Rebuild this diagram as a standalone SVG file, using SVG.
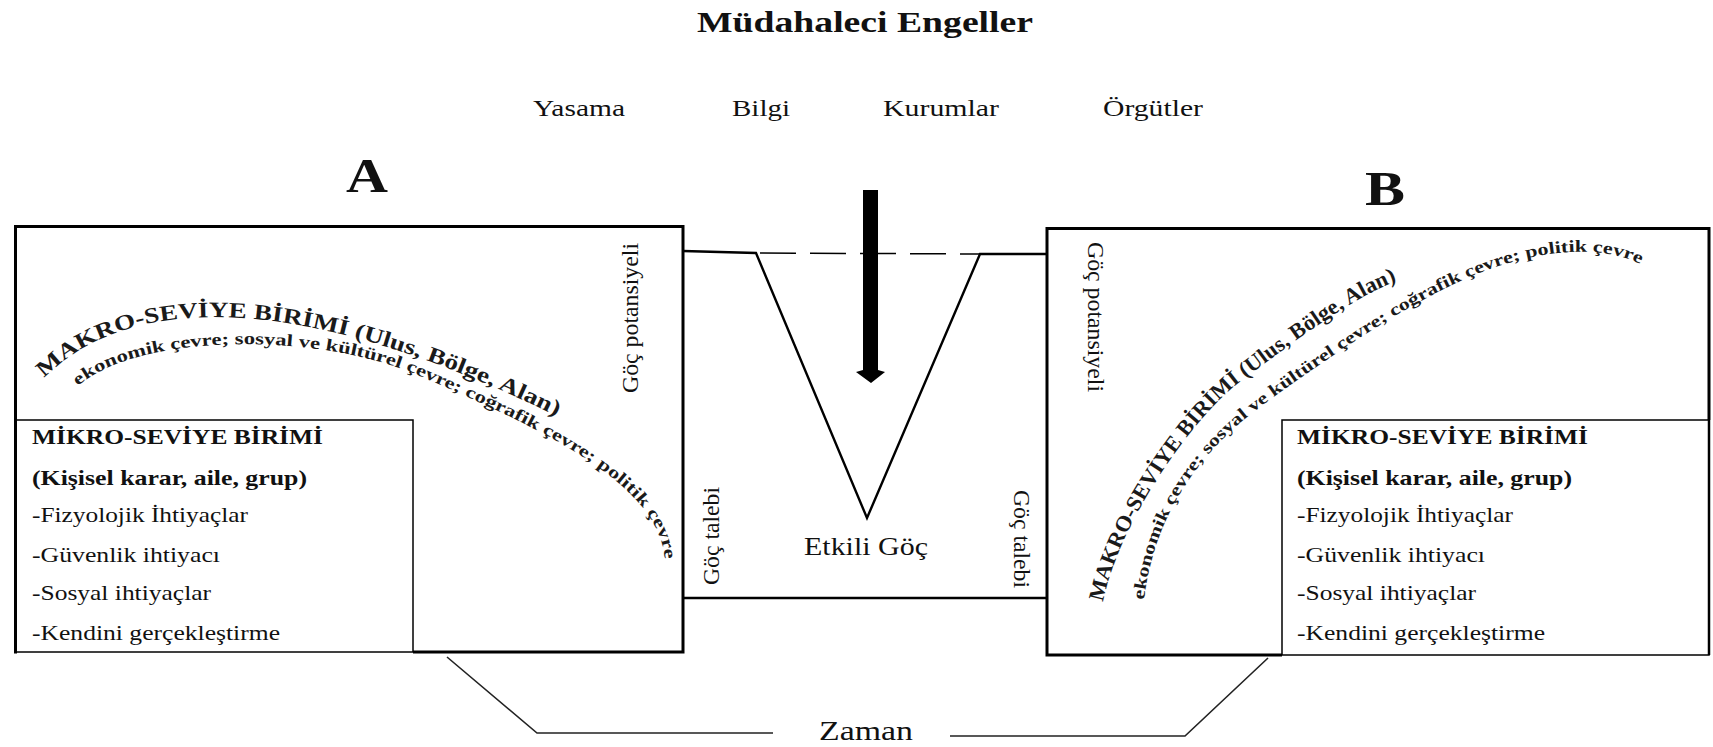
<svg xmlns="http://www.w3.org/2000/svg" width="1713" height="747" viewBox="0 0 1713 747">
<style>
  text { font-family: "Liberation Serif", "Times New Roman", Times, "DejaVu Serif", serif; fill: #111; }
  .title { font-size: 30px; font-weight: bold; }
  .lbl { font-size: 24px; }
  .big { font-size: 48px; font-weight: bold; }
  .side { font-size: 23px; }
  .head { font-size: 21px; font-weight: bold; }
  .item { font-size: 21px; }
  .arc1 { font-size: 22px; font-weight: bold; fill: #1a1a1a; }
  .arc2 { font-size: 17px; font-weight: bold; fill: #1a1a1a; }
  .thick { fill: none; stroke: #000; stroke-width: 3; }
  .thin { fill: none; stroke: #000; stroke-width: 1.5; }
  .ln { fill: none; stroke: #000; stroke-width: 2.4; }
  .dash { fill: none; stroke: #000; stroke-width: 1.5; stroke-dasharray: 36 14; }
  .conn { fill: none; stroke: #222; stroke-width: 1.6; }
</style>
<defs>
  <path id="arcL1" d="M44,378 C144,278 340,308 560,418"/>
  <path id="arcL2" d="M78,386 C140,332 320,332 420,376 C545,430 662,485 665,562"/>
  <path id="arcR1" d="M1103,602 C1119,522 1192,418 1240,382 C1288,346 1353,296 1400,280"/>
  <path id="arcR2" d="M1144,600 C1154,512 1204,448 1260,407 C1328,357.5 1428,287 1505,264 C1553,249.5 1604,246 1640,264"/>
</defs>
<rect x="0" y="0" width="1713" height="747" fill="#fff"/>

<g id="title">
  <text class="title" x="865" y="32" text-anchor="middle" textLength="336" lengthAdjust="spacingAndGlyphs">Müdahaleci Engeller</text>
</g>
<g id="barriers">
  <text class="lbl" x="533" y="116" textLength="92" lengthAdjust="spacingAndGlyphs">Yasama</text>
  <text class="lbl" x="732" y="116" textLength="58" lengthAdjust="spacingAndGlyphs">Bilgi</text>
  <text class="lbl" x="883" y="116" textLength="116" lengthAdjust="spacingAndGlyphs">Kurumlar</text>
  <text class="lbl" x="1103" y="116" textLength="100" lengthAdjust="spacingAndGlyphs">Örgütler</text>
</g>
<g id="labelA"><text class="big" x="367" y="192" text-anchor="middle" textLength="42" lengthAdjust="spacingAndGlyphs">A</text></g>
<g id="labelB"><text class="big" x="1385" y="205" text-anchor="middle" textLength="40" lengthAdjust="spacingAndGlyphs">B</text></g>

<g id="boxA">
  <path class="thick" d="M413,652 H683 V226.5 H15.5 V653.5"/>
  <text class="arc1"><textPath href="#arcL1" textLength="545" lengthAdjust="spacingAndGlyphs">MAKRO-SEVİYE BİRİMİ (Ulus, Bölge, Alan)</textPath></text>
  <text class="arc2"><textPath href="#arcL2" textLength="672" lengthAdjust="spacingAndGlyphs">ekonomik çevre; sosyal ve kültürel çevre; coğrafik çevre; politik çevre</textPath></text>
  <text class="side" transform="translate(638,318) rotate(-90)" text-anchor="middle" textLength="150" lengthAdjust="spacingAndGlyphs">Göç potansiyeli</text>
</g>
<g id="microA">
  <rect class="thin" x="15.5" y="420" width="397.5" height="232"/>
  <text class="head" x="32" y="444" textLength="291" lengthAdjust="spacingAndGlyphs">MİKRO-SEVİYE BİRİMİ</text>
  <text class="head" x="32" y="485" textLength="275" lengthAdjust="spacingAndGlyphs">(Kişisel karar, aile, grup)</text>
  <text class="item" x="32" y="522" textLength="216" lengthAdjust="spacingAndGlyphs">-Fizyolojik İhtiyaçlar</text>
  <text class="item" x="32" y="562" textLength="188" lengthAdjust="spacingAndGlyphs">-Güvenlik ihtiyacı</text>
  <text class="item" x="32" y="600" textLength="179" lengthAdjust="spacingAndGlyphs">-Sosyal ihtiyaçlar</text>
  <text class="item" x="32" y="640" textLength="248" lengthAdjust="spacingAndGlyphs">-Kendini gerçekleştirme</text>
</g>

<g id="boxB">
  <path class="thick" d="M1282,655 H1047 V228.5 H1709 V420"/>
  <text class="arc1"><textPath href="#arcR1" textLength="450" lengthAdjust="spacingAndGlyphs">MAKRO-SEVİYE BİRİMİ (Ulus, Bölge, Alan)</textPath></text>
  <text class="arc2"><textPath href="#arcR2" textLength="655" lengthAdjust="spacingAndGlyphs">ekonomik çevre; sosyal ve kültürel çevre; coğrafik çevre; politik çevre</textPath></text>
  <text class="side" transform="translate(1088,317) rotate(90)" text-anchor="middle" textLength="150" lengthAdjust="spacingAndGlyphs">Göç potansiyeli</text>
</g>
<g id="microB">
  <rect class="thin" x="1282" y="420" width="427" height="235"/>
  <path class="thin" d="M1709,420 V655" style="stroke-width:2.5"/>
  <text class="head" x="1297" y="444" textLength="291" lengthAdjust="spacingAndGlyphs">MİKRO-SEVİYE BİRİMİ</text>
  <text class="head" x="1297" y="485" textLength="275" lengthAdjust="spacingAndGlyphs">(Kişisel karar, aile, grup)</text>
  <text class="item" x="1297" y="522" textLength="216" lengthAdjust="spacingAndGlyphs">-Fizyolojik İhtiyaçlar</text>
  <text class="item" x="1297" y="562" textLength="188" lengthAdjust="spacingAndGlyphs">-Güvenlik ihtiyacı</text>
  <text class="item" x="1297" y="600" textLength="179" lengthAdjust="spacingAndGlyphs">-Sosyal ihtiyaçlar</text>
  <text class="item" x="1297" y="640" textLength="248" lengthAdjust="spacingAndGlyphs">-Kendini gerçekleştirme</text>
</g>

<g id="funnel">
  <polyline class="ln" points="683,251 756,253 867,518 980,254 1047,254"/>
  <line class="dash" x1="760" y1="253" x2="980" y2="254"/>
  <line class="ln" x1="683" y1="598" x2="1047" y2="598"/>
  <text class="side" transform="translate(719,536) rotate(-90)" text-anchor="middle" textLength="98" lengthAdjust="spacingAndGlyphs">Göç talebi</text>
  <text class="side" transform="translate(1014,539) rotate(90)" text-anchor="middle" textLength="98" lengthAdjust="spacingAndGlyphs">Göç talebi</text>
  <text x="866" y="555" text-anchor="middle" font-size="25" textLength="124" lengthAdjust="spacingAndGlyphs">Etkili Göç</text>
</g>
<g id="barrierArrow">
  <polygon points="863,190 878,190 878,370 885,372 871,383 856,372 863,370" fill="#000"/>
</g>

<g id="connectors">
  <polyline class="conn" points="447,657 537,733 773,733"/>
  <polyline class="conn" points="950,736 1185,736 1268,658"/>
</g>
<g id="time">
  <text x="819" y="740" font-size="27" textLength="94" lengthAdjust="spacingAndGlyphs">Zaman</text>
</g>
</svg>
